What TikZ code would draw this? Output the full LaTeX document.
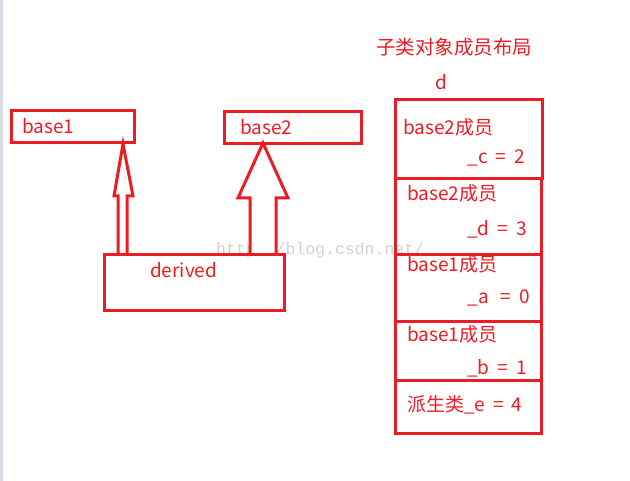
\documentclass[tikz,border=0pt]{standalone}
\usepackage{fontspec}
\setmainfont{Noto Sans CJK SC}
\newfontfamily\wmfont{Liberation Mono}
\definecolor{pred}{HTML}{ED1C24}
\definecolor{wm}{HTML}{D6D0CA}
\definecolor{edge}{HTML}{D7DEEA}
\newcommand{\gapsp}{\hspace{8pt}}
\tikzset{
  box/.style={draw=pred, line width=3pt, anchor=north west, inner sep=0pt},
  txt/.style={text=pred, font=\fontsize{19}{22}\selectfont, inner sep=0pt},
  hollow/.style={draw=pred, line width=3pt, line join=miter, fill=white}
}
\begin{document}
\begin{tikzpicture}[x=1pt,y=-1pt]
\useasboundingbox (0,0) rectangle (630,481);
\fill[edge] (0,0) rectangle (3,481);
% watermark
\node[font=\wmfont\fontsize{16.5}{18}\selectfont, text=wm, anchor=west, inner sep=0pt] (wmk) at (216,250) {http://blog.csdn.net/};
% left boxes
\node[box, minimum width=123pt, minimum height=32pt] (base1) at (10,109) {};
\node[box, minimum width=137pt, minimum height=32pt] (base2) at (223,110) {};
\node[box, minimum width=180pt, minimum height=56pt] (derived) at (103,253) {};
\node[txt, anchor=west] (t1) at (22,126) {base1};
\node[txt, anchor=west] (t2) at (240,127) {base2};
\node[txt, anchor=west] (t3) at (150,270) {derived};
% hollow arrows
\coordinate (a1) at (derived.north -| 123,0);
\coordinate (h1) at (base1.south -| 123,0);
\coordinate (a2) at (derived.north -| 263,0);
\coordinate (h2) at (base2.south -| 263,0);
\draw[hollow] ([xshift=-5pt]a1) -- ([xshift=-5pt]a1 |- 0,196) -- ([xshift=-9pt]a1 |- 0,196) -- (h1)
  -- ([xshift=10pt]a1 |- 0,196) -- ([xshift=4pt]a1 |- 0,196) -- ([xshift=4pt]a1);
\draw[hollow] ([xshift=-13pt]a2) -- ([xshift=-13pt]a2 |- 0,198) -- ([xshift=-25pt]a2 |- 0,198) -- ([yshift=2pt]h2)
  -- ([xshift=25pt]a2 |- 0,198) -- ([xshift=13pt]a2 |- 0,198) -- ([xshift=13pt]a2);
% right stack
\node[txt, font=\fontsize{19.5}{22}\selectfont] (title) at (454,47) {子类对象成员布局};
\node[txt] (dlab) at (441,82) {d};
\node[box, minimum width=147pt, minimum height=79pt] (m1) at (394,98) {};
\node[box, minimum width=146pt, minimum height=76pt] (m2) at (394,177) {};
\node[box, minimum width=146pt, minimum height=67pt] (m3) at (394,253) {};
\node[box, minimum width=146pt, minimum height=59pt] (m4) at (394,320) {};
\node[box, minimum width=146pt, minimum height=53pt] (m5) at (394,379) {};
\node[txt, anchor=west] (m1a) at (403,127) {base2成员};
\node[txt, anchor=east] (m1b) at (525,158) {\_c\gapsp=\gapsp2};
\node[txt, anchor=west] (m2a) at (407,193) {base2成员};
\node[txt, anchor=east] (m2b) at (527,229) {\_d\gapsp=\gapsp3};
\node[txt, anchor=west] (m3a) at (407,264) {base1成员};
\node[txt, anchor=east] (m3b) at (530,298) {\_a\hspace{12pt}=\gapsp0};
\node[txt, anchor=west] (m4a) at (407,334) {base1成员};
\node[txt, anchor=east] (m4b) at (527,368) {\_b\gapsp=\gapsp1};
\node[txt, anchor=west] (m5a) at (407,405) {派生类\_e\gapsp=\gapsp4};
\end{tikzpicture}
\end{document}
